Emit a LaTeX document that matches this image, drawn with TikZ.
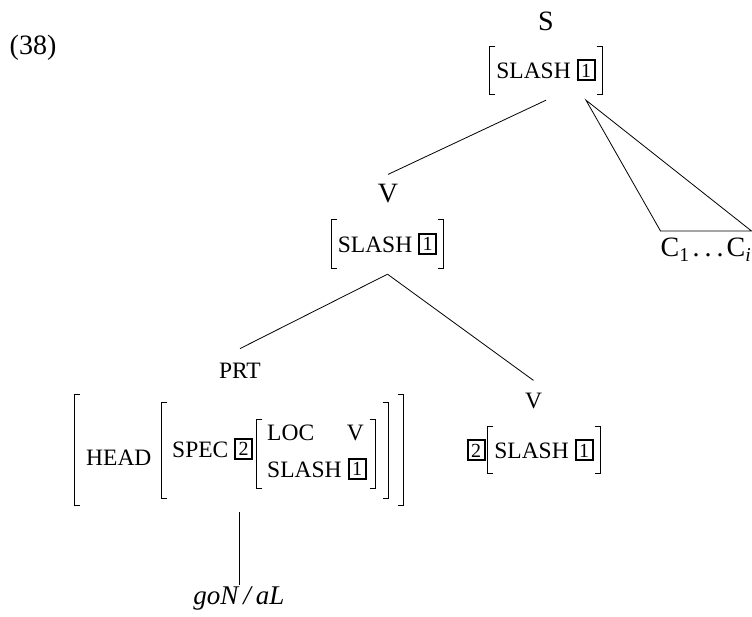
\documentclass[tikz,border=0pt]{standalone}
\usepackage{fontspec}
\setmainfont{Liberation Serif}
\usetikzlibrary{positioning}

\newcommand{\tagnum}[1]{\raisebox{1.5pt}{\setlength{\fboxrule}{2pt}\setlength{\fboxsep}{0pt}\fbox{\makebox[15pt]{\rule[-2pt]{0pt}{18pt}\fontsize{20}{22}\selectfont #1}}}}
\newcommand{\avmbrackets}[1]{%
  \draw[bracket] ([xshift=5.5pt]#1.north west) -- (#1.north west) -- (#1.south west) -- ([xshift=5.5pt]#1.south west);
  \draw[bracket] ([xshift=-5.5pt]#1.north east) -- (#1.north east) -- (#1.south east) -- ([xshift=-5.5pt]#1.south east);}

\tikzset{
  cat/.style={font=\fontsize{28}{32}\selectfont, inner sep=0pt},
  smallcat/.style={font=\fontsize{23.5}{26}\selectfont, inner sep=0pt},
  avm/.style={font=\fontsize{23.5}{26}\selectfont, inner sep=0pt},
  bracket/.style={line width=1.2pt},
  branch/.style={line width=0.8pt}
}

\begin{document}
\begin{tikzpicture}[x=1pt,y=-1pt]
	\useasboundingbox (0,0) rectangle (752,617);
	\node[cat] (ex) at (33,48) {(38)};
	% S
	\node[cat] (slab) at (546,21) {S};
	\node[avm, minimum width=112pt, minimum height=47pt] (savm) at (546,70.5) {SLASH \tagnum{1}};
	\avmbrackets{savm}
	\node[cat, anchor=north, inner ysep=7pt] (clist) at (706,231) {C\textsubscript{1}\kern3pt.\kern5pt.\kern5pt.\kern3pt C\textsubscript{\itshape i}};
	% V
	\node[cat] (vlab) at (388,194) {V};
	\node[avm, minimum width=111pt, minimum height=48pt] (vavm) at (387.5,244) {SLASH \tagnum{1}};
	\avmbrackets{vavm}
	% PRT
	\node[smallcat] (prtlab) at (240,370.5) {PRT};
	\node[minimum width=328pt, minimum height=110pt, inner sep=0pt] (prtavm) at (239,450) {};
	\node[minimum width=226pt, minimum height=95pt, inner sep=0pt] (specavm) at (275,450.5) {};
	\node[minimum width=118pt, minimum height=68pt, inner sep=0pt] (locavm) at (316,454) {};
	\avmbrackets{prtavm}
	\avmbrackets{specavm}
	\avmbrackets{locavm}
	\node[avm, anchor=base west] (head) at (86,465) {HEAD};
	\node[avm, anchor=base west] (spec) at (172,457) {SPEC \tagnum{2}};
	\node[avm, anchor=base west] (loc) at (267,440) {LOC};
	\node[avm, anchor=base east] (locval) at (364,440) {V};
	\node[avm, anchor=base west] (slashval) at (267,477) {SLASH \tagnum{1}};
	\node[cat, font=\fontsize{27}{32}\selectfont\itshape, anchor=north] (word) at (239,586) {goN\kern5pt/\kern5pt aL};
	% lower V
	\node[smallcat] (v2lab) at (533.5,400.5) {V};
	\node[avm, minimum width=112pt, minimum height=46pt] (v2avm) at (544,450) {SLASH \tagnum{1}};
	\avmbrackets{v2avm}
	\node[avm, left=2pt of v2avm] (v2tag) {\tagnum{2}};
	% branches
	\draw[branch] ([yshift=-6pt]savm.south) -- ([yshift=10pt]vlab.north);
	\draw[branch] ([xshift=40pt,yshift=-6pt]savm.south) -- (clist.north west) -- (clist.north east) -- cycle;
	\draw[branch] ([yshift=-6pt]vavm.south) -- ([yshift=14pt]prtlab.north);
	\draw[branch] ([yshift=-6pt]vavm.south) -- ([yshift=12pt]v2lab.north);
	\draw[branch] ([yshift=-7pt]prtavm.south) -- ([yshift=1pt]word.north);
\end{tikzpicture}
\end{document}
